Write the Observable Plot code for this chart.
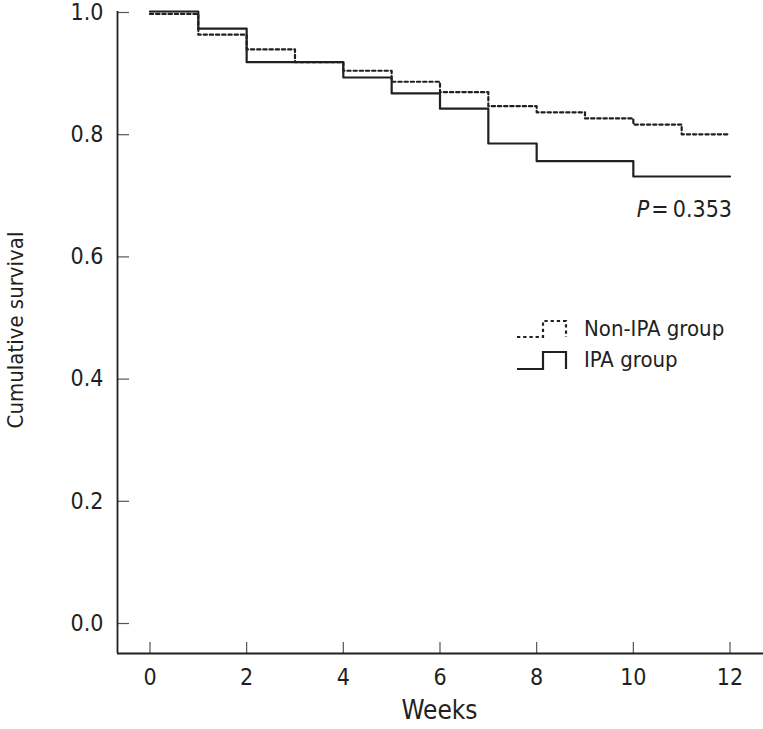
<!DOCTYPE html>
<html>
<head>
<meta charset="utf-8">
<script src="https://cdn.jsdelivr.net/npm/d3@7"></script>
<script src="https://cdn.jsdelivr.net/npm/@observablehq/plot@0.6"></script>
<style>
  body { margin: 0; background: #fff; }
  #wrap { position: relative; width: 763px; height: 729px; overflow: hidden;
          font-family: "Liberation Sans Narrow", "Arial Narrow", "DejaVu Sans Condensed", sans-serif; color: #231f20; }
  .ov { position: absolute; white-space: nowrap; line-height: 1; }
</style>
</head>
<body>
<div id="wrap"></div>
<script>
// ---- data ----
const weeks = [0, 1, 2, 3, 4, 5, 6, 7, 8, 9, 10, 11, 12];
const nonIpaSurvival = [0.996, 0.962, 0.938, 0.917, 0.903, 0.885, 0.868, 0.845, 0.835, 0.825, 0.815, 0.799, 0.799];
const ipaSurvival    = [1.000, 0.972, 0.917, 0.917, 0.892, 0.866, 0.841, 0.784, 0.755, 0.755, 0.730, 0.730, 0.730];
const groups = ["Non-IPA group", "IPA group"];
const xTicks = [0, 2, 4, 6, 8, 10, 12];
const yTicks = [0.0, 0.2, 0.4, 0.6, 0.8, 1.0];
const xLabel = "Weeks";
const yLabel = "Cumulative survival";
const pValueText = "0.353";

// ---- layout ----
const W = 763, H = 729;
const ink = "#231f20";
const font = `"Liberation Sans Narrow", "Arial Narrow", "DejaVu Sans Condensed", sans-serif`;
const xDomain = [-0.672, 12.693];
const yDomain = [-0.0507, 1.0];

const rows = [];
weeks.forEach((w, i) => {
  rows.push({week: w, s: nonIpaSurvival[i], group: groups[0]});
  rows.push({week: w, s: ipaSurvival[i], group: groups[1]});
});

const chart = Plot.plot({
  width: W,
  height: H,
  marginLeft: 117,
  marginRight: 0,
  marginTop: 11,
  marginBottom: 76,
  style: {fontFamily: font, fontSize: "23px", color: ink, background: "#fff", overflow: "visible"},
  x: {domain: xDomain},
  y: {domain: yDomain},
  marks: [
    Plot.axisX(xTicks, {tickSize: -11, tickPadding: 26, stroke: "#555", strokeWidth: 1.2, fontSize: 23, fill: ink, label: null}),
    Plot.axisY(yTicks, {tickSize: -12, tickPadding: 26, stroke: "#555", strokeWidth: 1.2, fontSize: 23, fill: ink, label: null, tickFormat: d3.format(".1f"), dy: 1}),
    Plot.ruleX([xDomain[0]], {stroke: ink, strokeWidth: 1.8}),
    Plot.ruleY([yDomain[0]], {stroke: ink, strokeWidth: 1.8}),
    Plot.line(rows.filter(d => d.group === groups[0]), {
      x: "week", y: "s", curve: "step-after", stroke: ink, strokeWidth: 2.2, strokeDasharray: "3.3 2.9"
    }),
    Plot.line(rows.filter(d => d.group === groups[1]), {
      x: "week", y: "s", curve: "step-after", stroke: ink, strokeWidth: 2.2
    })
  ]
});

const wrap = document.getElementById("wrap");
wrap.appendChild(chart);

// overlays: titles, p-value, legend
function addDiv(html, css) {
  const d = document.createElement("div");
  d.className = "ov";
  d.innerHTML = html;
  Object.assign(d.style, css);
  wrap.appendChild(d);
  return d;
}
// x title
addDiv(xLabel, {left: "0px", width: "879px", textAlign: "center", top: "697px", fontSize: "26px"});
// y title (rotated)
addDiv(yLabel, {left: "-134px", top: "319px", width: "300px", height: "22px", textAlign: "center", fontSize: "22px", transform: "rotate(-90deg)", transformOrigin: "center"});
// p value
addDiv(`<i>P</i>\u200A=\u2009${pValueText}`, {right: `${W - 732}px`, top: "198px", fontSize: "23px"});

// legend
const lg = document.createElement("div");
lg.className = "ov";
Object.assign(lg.style, {left: "514px", top: "310px"});
lg.innerHTML = `
<svg width="60" height="70" style="position:absolute;left:0;top:0;overflow:visible">
  <polyline points="3,27 29,27 29,11 52,11 52,27" fill="none" stroke="${ink}" stroke-width="2.2" stroke-dasharray="3.3 2.9"/>
  <polyline points="3,59 29,59 29,42 52,42 52,59" fill="none" stroke="${ink}" stroke-width="2.2"/>
</svg>
<div style="position:absolute;left:70px;top:8px;font-size:22px;">${groups[0]}</div>
<div style="position:absolute;left:70px;top:39px;font-size:22px;">${groups[1]}</div>`;
wrap.appendChild(lg);
</script>
</body>
</html>
